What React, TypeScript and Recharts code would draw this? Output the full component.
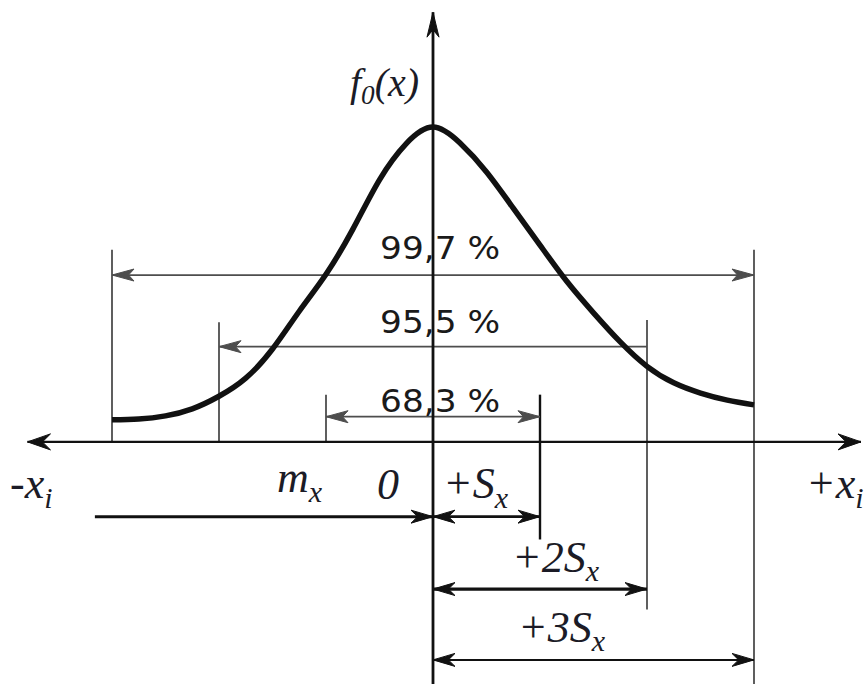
import React from 'react';
import { ComposedChart, Line, XAxis, YAxis, ReferenceLine, ReferenceDot } from 'recharts';

// Abscissa in units of the standard deviation S_x, measured from m_x
const sigmaSteps = [
  -3, -2.75, -2.5, -2.25, -2, -1.75, -1.5, -1.25, -1, -0.75, -0.5, -0.25, 0,
  0.25, 0.5, 0.75, 1, 1.25, 1.5, 1.75, 2, 2.25, 2.5, 2.75, 3,
];
// Probability density f0(x) at each step (peak-normalised to 0.40)
const density = [
  0.028, 0.029, 0.033, 0.042, 0.058, 0.081, 0.118, 0.166, 0.213, 0.27, 0.333, 0.379, 0.4,
  0.38, 0.343, 0.297, 0.25, 0.204, 0.164, 0.127, 0.096, 0.075, 0.062, 0.053, 0.047,
];

// ±k·S_x intervals and the share of values inside each of them
const sigmaMultiples = [1, 2, 3];
const coverageLabels = ['68,3 %', '95,5 %', '99,7 %'];
const offsetLabels = ['+S', '+2S', '+3S'];

const rows = sigmaSteps.map((s, i) => ({ s, f: density[i] }));

// ---- drawing layout (chart units) ----
const W = 868;
const H = 684;
const MARGIN = { top: 9, right: 7, bottom: 6, left: 5 };
const X_DOMAIN: [number, number] = [-4, 4];
const Y_DOMAIN: [number, number] = [-0.3, 0.55];

const INK = '#111111';
const GREY = '#4d4d4d';
const SERIF = '"Liberation Serif", "DejaVu Serif", serif';
const SANS = '"DejaVu Sans", Verdana, sans-serif';

// upper / lower ends of the boundary verticals at -3..-1 and +1..+3 S_x
const leftBoundTop = [0.06, 0.152, 0.244];
const rightBoundTop = [0.06, 0.155, 0.244];
const rightBoundBottom = [-0.124, -0.213, -0.31];
// coverage arrows above the axis
const coverageLevel = [0.032, 0.121, 0.212];
const coverageTextLevel = [0.038, 0.138, 0.232];
const coverageHeads: Array<[boolean, boolean]> = [[true, true], [true, false], [true, true]];
// offset arrows below the axis
const offsetLevel = [-0.095, -0.187, -0.277];
const offsetWidth = [2.6, 3.2, 2];
const offsetTextPos = [
  { x: 0.093, y: -0.0711 },
  { x: 0.738, y: -0.165 },
  { x: 0.794, y: -0.254 },
];

type Head = { len: number; half: number; notch: number };

function headPath(tx: number, ty: number, fx: number, fy: number, h: Head) {
  const dx = tx - fx;
  const dy = ty - fy;
  const d = Math.hypot(dx, dy) || 1;
  const ux = dx / d;
  const uy = dy / d;
  const nx = -uy;
  const ny = ux;
  const bx = tx - ux * h.len;
  const by = ty - uy * h.len;
  const mx = tx - ux * h.len * h.notch;
  const my = ty - uy * h.len * h.notch;
  return `M${tx},${ty} L${bx + nx * h.half},${by + ny * h.half} L${mx},${my} L${bx - nx * h.half},${by - ny * h.half} Z`;
}

const arrowShape =
  (start: boolean, end: boolean, color: string, width: number, head: Head) =>
  (p: any) => {
    const { x1, y1, x2, y2 } = p;
    return (
      <g>
        <line x1={x1} y1={y1} x2={x2} y2={y2} stroke={color} strokeWidth={width} />
        {start && <path d={headPath(x1, y1, x2, y2, head)} fill={color} stroke={color} strokeWidth={1} strokeLinejoin="miter" />}
        {end && <path d={headPath(x2, y2, x1, y1, head)} fill={color} stroke={color} strokeWidth={1} strokeLinejoin="miter" />}
      </g>
    );
  };

const axisHead: Head = { len: 23, half: 8, notch: 0.65 };
const thinHead: Head = { len: 22, half: 6, notch: 0.75 };
const boldHead: Head = { len: 22, half: 6.5, notch: 0.7 };

const mathText =
  (main: string, sub: string, after = '', size = 44) =>
  (p: any) => (
    <text x={p.cx} y={p.cy} fontFamily={SERIF} fontStyle="italic" fontSize={size} fill="#1b1b26">
      <tspan>{main}</tspan>
      <tspan fontSize={size * 0.68} dy={size * 0.22}>{sub}</tspan>
      {after && <tspan dy={-size * 0.22}>{after}</tspan>}
    </text>
  );

const plainText = (txt: string) => (p: any) => (
  <text
    x={p.cx}
    y={p.cy}
    fontFamily={SANS}
    fontSize={32}
    fill="#1a1a1a"
    textLength={120}
    lengthAdjust="spacingAndGlyphs"
  >
    {txt}
  </text>
);

export default function App() {
  return (
    <div style={{ position: 'absolute', left: 0, top: 0, width: W, height: H, background: '#fff' }}>
      <ComposedChart width={W} height={H} data={rows} margin={MARGIN}>
        <XAxis dataKey="s" type="number" domain={X_DOMAIN} hide allowDataOverflow />
        <YAxis type="number" domain={Y_DOMAIN} hide allowDataOverflow />

        {/* boundary verticals */}
        {sigmaMultiples.map((k, i) => (
          <ReferenceLine
            key={`lb${k}`}
            ifOverflow="visible"
            segment={[{ x: -k, y: 0 }, { x: -k, y: leftBoundTop[i] }]}
            stroke={GREY}
            strokeWidth={1.8}
          />
        ))}
        {sigmaMultiples.map((k, i) => (
          <ReferenceLine
            key={`rb${k}`}
            ifOverflow="visible"
            segment={[{ x: k, y: rightBoundBottom[i] }, { x: k, y: rightBoundTop[i] }]}
            stroke={i === 0 ? INK : GREY}
            strokeWidth={i === 0 ? 2.4 : 1.8}
          />
        ))}

        {/* coverage intervals */}
        {sigmaMultiples.map((k, i) => (
          <ReferenceLine
            key={`cov${k}`}
            ifOverflow="visible"
            segment={[{ x: -k, y: coverageLevel[i] }, { x: k, y: coverageLevel[i] }]}
            shape={arrowShape(coverageHeads[i][0], coverageHeads[i][1], GREY, 1.8, thinHead)}
          />
        ))}

        {/* offsets from the mean */}
        <ReferenceLine
          ifOverflow="visible"
          segment={[{ x: -3.16, y: offsetLevel[0] }, { x: 0, y: offsetLevel[0] }]}
          shape={arrowShape(false, true, INK, 3, boldHead)}
        />
        {sigmaMultiples.map((k, i) => (
          <ReferenceLine
            key={`off${k}`}
            ifOverflow="visible"
            segment={[{ x: 0, y: offsetLevel[i] }, { x: k, y: offsetLevel[i] }]}
            shape={arrowShape(true, true, INK, offsetWidth[i], boldHead)}
          />
        ))}

        {/* axes */}
        <ReferenceLine
          ifOverflow="visible"
          segment={[{ x: -3.79, y: 0 }, { x: 4.0, y: 0 }]}
          shape={arrowShape(true, true, INK, 2.4, axisHead)}
        />
        <ReferenceLine
          ifOverflow="visible"
          segment={[{ x: 0, y: -0.31 }, { x: 0, y: 0.546 }]}
          shape={arrowShape(false, true, INK, 2.8, { len: 25, half: 6, notch: 0.7 })}
        />

        <Line
          dataKey="f"
          type="natural"
          stroke={INK}
          strokeWidth={5.5}
          dot={false}
          activeDot={false}
          isAnimationActive={false}
        />

        {/* labels */}
        {coverageLabels.map((t, i) => (
          <ReferenceDot key={t} x={-0.495} y={coverageTextLevel[i]} r={0} ifOverflow="visible" shape={plainText(t)} />
        ))}
        {offsetLabels.map((t, i) => (
          <ReferenceDot
            key={t}
            x={offsetTextPos[i].x}
            y={offsetTextPos[i].y}
            r={0}
            ifOverflow="visible"
            shape={mathText(t, 'x')}
          />
        ))}
        <ReferenceDot x={-3.953} y={-0.0711} r={0} ifOverflow="visible" shape={mathText('-x', 'i')} />
        <ReferenceDot x={3.486} y={-0.0711} r={0} ifOverflow="visible" shape={mathText('+x', 'i')} />
        <ReferenceDot x={-1.458} y={-0.0635} r={0} ifOverflow="visible" shape={mathText('m', 'x')} />
        <ReferenceDot x={-0.523} y={-0.0724} r={0} ifOverflow="visible" shape={mathText('0', '')} />
        <ReferenceDot x={-0.776} y={0.44} r={0} ifOverflow="visible" shape={mathText('f', '0', '(x)', 40)} />
      </ComposedChart>
    </div>
  );
}
